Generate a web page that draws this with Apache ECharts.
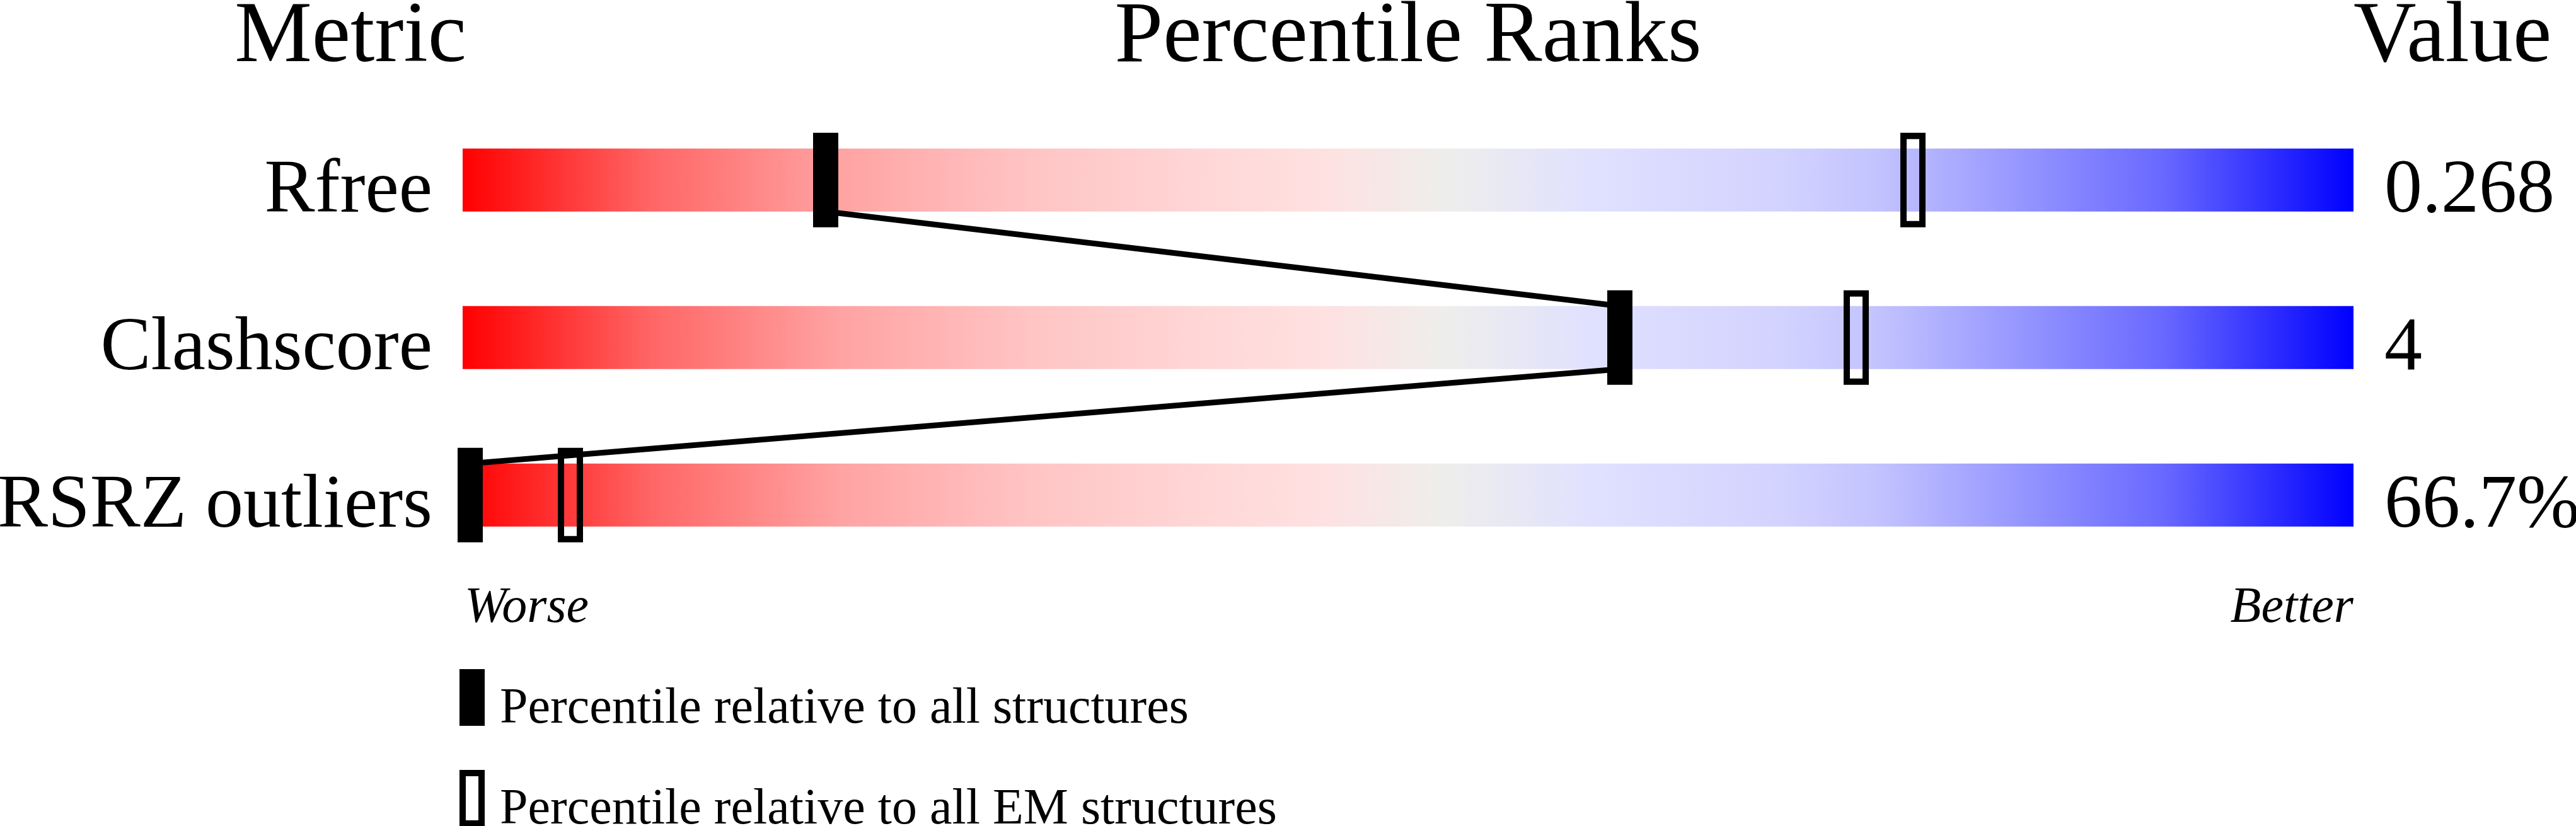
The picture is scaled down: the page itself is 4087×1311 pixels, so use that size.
<!DOCTYPE html>
<html>
<head>
<meta charset="utf-8">
<script src="https://cdn.jsdelivr.net/npm/echarts@6/dist/echarts.min.js"></script>
<style>
html,body{margin:0;padding:0;background:#ffffff;}
#chart{width:4087px;height:1311px;}
</style>
</head>
<body>
<div id="chart"></div>
<script>
// ---- data ----
const metrics = ['Rfree', 'Clashscore', 'RSRZ outliers'];
const valueLabels = ['0.268', '4', '66.7%'];
const pctAll = [19.2, 61.2, 0.4];      // percentile relative to all structures
const pctEM = [76.7, 73.7, 5.7];       // percentile relative to all EM structures
const headers = ['Metric', 'Percentile Ranks', 'Value'];
const scaleEnds = ['Worse', 'Better'];
const legendNames = ['Percentile relative to all structures', 'Percentile relative to all EM structures'];

// ---- style ----
const FONT = 'Liberation Serif';
const gradientStops = [
  [0.00, '#ff0000'], [0.10, '#ff6666'], [0.20, '#ffa3a3'], [0.30, '#ffc4c4'],
  [0.40, '#ffd8d8'], [0.45, '#ffe0e0'], [0.52, '#eeeeec'], [0.60, '#e0e0ff'],
  [0.70, '#d2d2ff'], [0.75, '#c2c2ff'], [0.80, '#a4a4ff'], [0.90, '#6868ff'],
  [1.00, '#0000ff']
];
const hollowPath = 'path://M0,0H40V150H0Z M10,10V140H30V10Z';

const chart = echarts.init(document.getElementById('chart'), null, {renderer: 'canvas'});

const barGradient = new echarts.graphic.LinearGradient(0, 0, 1, 0,
  gradientStops.map(s => ({offset: s[0], color: s[1]})));

function txt(text, x, y, size, align, italic) {
  return {
    type: 'text', x: x, y: y, silent: true,
    style: {text: text, font: (italic ? 'italic ' : '') + size + 'px "' + FONT + '"',
      fill: '#000', align: align, verticalAlign: 'middle'}
  };
}

const option = {
  animation: false,
  backgroundColor: '#ffffff',
  grid: {left: 734, width: 3000, top: 160.7, height: 750, containLabel: false, outerBoundsMode: 'none'},
  xAxis: {type: 'value', min: 0, max: 100, show: false},
  yAxis: [
    {
      type: 'category', data: metrics, inverse: true, position: 'left',
      axisLine: {show: false}, axisTick: {show: false}, splitLine: {show: false},
      axisLabel: {interval: 0, fontFamily: FONT, fontSize: 120, color: '#000',
        margin: 48, lineHeight: 37, verticalAlign: 'top', hideOverlap: false}
    },
    {
      type: 'category', data: valueLabels, inverse: true, position: 'right',
      axisLine: {show: false}, axisTick: {show: false}, splitLine: {show: false},
      axisLabel: {interval: 0, fontFamily: FONT, fontSize: 120, color: '#000',
        margin: 49, lineHeight: 37, verticalAlign: 'top', hideOverlap: false}
    }
  ],
  graphic: [
    txt(headers[0], 740, 60.5, 138, 'right'),
    txt(headers[1], 2234, 60.5, 138, 'center'),
    txt(headers[2], 3734, 60.5, 138, 'left'),
    txt(scaleEnds[0], 737, 965.5, 80, 'left', true),
    txt(scaleEnds[1], 3734, 965.5, 80, 'right', true),
    // legend
    {type: 'rect', silent: true, shape: {x: 729, y: 1062, width: 40, height: 90}, style: {fill: '#000'}},
    {type: 'rect', silent: true, shape: {x: 734, y: 1227, width: 30, height: 80}, style: {fill: 'none', stroke: '#000', lineWidth: 10}},
    txt(legendNames[0], 793, 1125.7, 80, 'left'),
    txt(legendNames[1], 793, 1285.7, 80, 'left')
  ],
  series: [
    {
      type: 'bar', name: 'scale', yAxisIndex: 0, z: 1,
      data: metrics.map(() => 100), barWidth: '40%', silent: true,
      itemStyle: {color: barGradient}
    },
    {
      type: 'custom', name: 'link', yAxisIndex: 0, z: 2, silent: true,
      data: pctAll.map((p, i) => [p, i]),
      renderItem: function (params, api) {
        const i = params.dataIndex;
        if (i >= pctAll.length - 1) return {type: 'group', children: []};
        const a = api.coord([pctAll[i], i]);
        const b = api.coord([pctAll[i + 1], i + 1]);
        const half = (b[1] - a[1]) * 0.2;
        return {
          type: 'line',
          shape: {x1: a[0], y1: a[1] + half, x2: b[0], y2: b[1] - half},
          style: {stroke: '#000', lineWidth: 9}
        };
      }
    },
    {
      type: 'scatter', name: legendNames[0], yAxisIndex: 0, z: 3, silent: true,
      data: pctAll.map((p, i) => [p, i]),
      symbol: 'rect', symbolSize: [40, 150],
      itemStyle: {color: '#000', opacity: 1}
    },
    {
      type: 'scatter', name: legendNames[1], yAxisIndex: 0, z: 3, silent: true,
      data: pctEM.map((p, i) => [p, i]),
      symbol: hollowPath, symbolSize: [40, 150], symbolKeepAspect: false,
      itemStyle: {color: '#000', opacity: 1}
    }
  ]
};
chart.setOption(option);
</script>
</body>
</html>
